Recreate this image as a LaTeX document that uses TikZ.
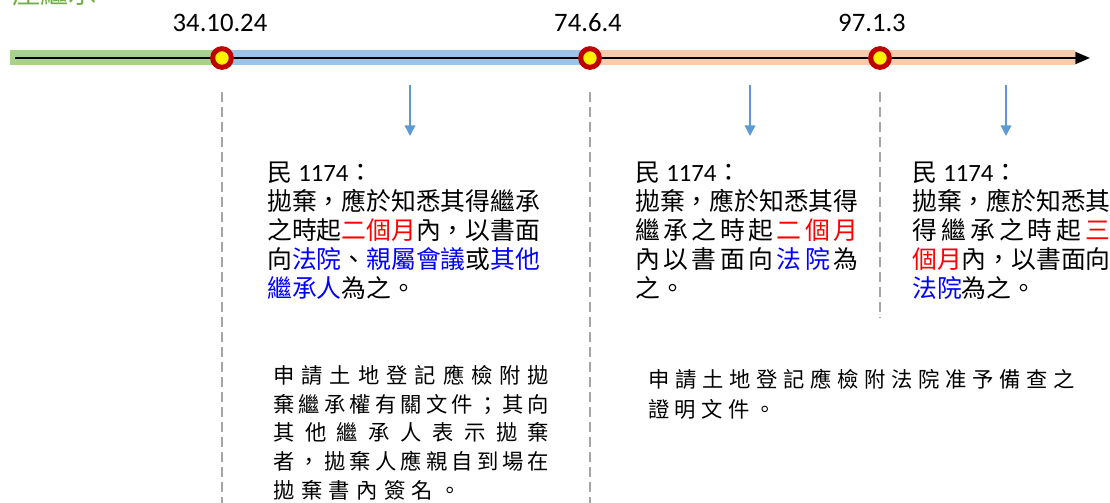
\documentclass[tikz,border=0pt]{standalone}
\usepackage{fontspec}
\setmainfont{Carlito}
\newfontfamily\cjk{Noto Sans CJK TC}
\usetikzlibrary{arrows.meta, positioning}

\definecolor{bandgreen}{HTML}{A9D18E}
\definecolor{bandblue}{HTML}{9DC3E6}
\definecolor{bandsalmon}{HTML}{F8CBAD}
\definecolor{ringred}{HTML}{C00000}
\definecolor{dropblue}{HTML}{5B9BD5}
\definecolor{titlegreen}{HTML}{70AD47}
\newcommand{\hl}[1]{\textcolor{red}{#1}}
\newcommand{\kw}[1]{\textcolor{blue}{#1}}

\begin{document}
\begin{tikzpicture}[x=0.75pt, y=-0.75pt, every node/.style={inner sep=0pt}, >={Triangle[length=11pt, width=9pt]},
    dot/.style={circle, draw=ringred, line width=3.75pt, fill=yellow, minimum size=14pt},
    datelabel/.style={anchor=base, font={\fontsize{20}{24}\selectfont}},
    law/.style={anchor=base west, align=left, font={\cjk\fontsize{18.6}{21.75}\selectfont}},
    note/.style={anchor=base west, align=left, font={\cjk\fontsize{16}{21.4}\selectfont\spaceskip=0.3em plus 1fil minus 0.3em}},
    guide/.style={draw=black!35, line width=1pt, dash pattern=on 7.5pt off 3.75pt},
    drop/.style={draw=dropblue, line width=1.1pt, -{Triangle[length=8pt, width=8pt]}}]
    \useasboundingbox (0,0) rectangle (1110,503);

    % time bands
    \fill[bandgreen] (10,50) rectangle (222,65);
    \fill[bandblue] (222,50) rectangle (590,65);
    \fill[bandsalmon] (590,50) rectangle (1075,65);
    \coordinate (start) at (15,58);
    \coordinate (end) at (1090,58);
    \draw[->, line width=1.5pt] (start) -- (end);

    \node[anchor=base west, text=titlegreen, font={\cjk\fontsize{21}{21}\selectfont}] (title) at (12,4) {產繼承};

    \node[dot] (d1) at (222,58) {};
    \node[dot] (d2) at (590,58) {};
    \node[dot] (d3) at (880,58) {};
    \node[datelabel] (t1) at (220,32) {34.10.24};
    \node[datelabel] (t2) at (588,32) {74.6.4};
    \node[datelabel] (t3) at (872,32) {97.1.3};

    \draw[guide] (d1 |- 0,92) -- (d1 |- 0,503);
    \draw[guide] (d2 |- 0,92) -- (d2 |- 0,503);
    \draw[guide] (d3 |- 0,92) -- (d3 |- 0,318);

    \coordinate (p1) at (410,85);  \coordinate (q1) at (410,136);
    \coordinate (p2) at (750,85);  \coordinate (q2) at (750,136);
    \coordinate (p3) at (1006,85); \coordinate (q3) at (1006,136);
    \draw[drop] (p1) -- (q1);
    \draw[drop] (p2) -- (q2);
    \draw[drop] (p3) -- (q3);

    % the base anchor sits on the last line
    \node[law] (law1) at (267,297) {民\hspace{0.25em}{\rmfamily 1174}：\\
        拋棄，應於知悉其得繼承\\
        之時起\hl{二個月}內，以書面\\
        向\kw{法院}、\kw{親屬會議}或\kw{其他}\\
        \kw{繼承人}為之。};
    \node[law] (law2) at (635,297) {民\hspace{0.25em}{\rmfamily 1174}：\\
        拋棄，應於知悉其得\\
        \makebox[9em][s]{繼\hfil 承\hfil 之\hfil 時\hfil 起\hfil \hl{二\hfil 個\hfil 月}}\\
        \makebox[9em][s]{內\hfil 以\hfil 書\hfil 面\hfil 向\hfil \kw{法\hfil 院}\hfil 為}\\
        之。};
    \node[law] (law3) at (912,297) {民\hspace{0.25em}{\rmfamily 1174}：\\
        拋棄，應於知悉其\\
        \makebox[8em][s]{得\hfil 繼\hfil 承\hfil 之\hfil 時\hfil 起\hfil \hl{三}}\\
        \hl{個月}內，以書面向\\
        \kw{法院}為之。};

    \node[note] (note1) at (273,498) {\makebox[207pt][s]{申 請 土 地 登 記 應 檢 附 拋}\\
        \makebox[207pt][s]{棄 繼 承 權 有 關 文 件 ； 其 向}\\
        \makebox[207pt][s]{其 他 繼 承 人 表 示 拋 棄}\\
        \makebox[207pt][s]{者 ， 拋 棄 人 應 親 自 到 場 在}\\
        \mbox{拋 棄 書 內 簽 名 。}};
    \node[note, font={\cjk\fontsize{16}{22.5}\selectfont\spaceskip=0.25em plus 1fil minus 0.25em}] (note2) at (648,417) {\makebox[320pt][s]{申 請 土 地 登 記 應 檢 附 法 院 准 予 備 查 之}\\
        \mbox{證 明 文 件 。}};
\end{tikzpicture}
\end{document}
